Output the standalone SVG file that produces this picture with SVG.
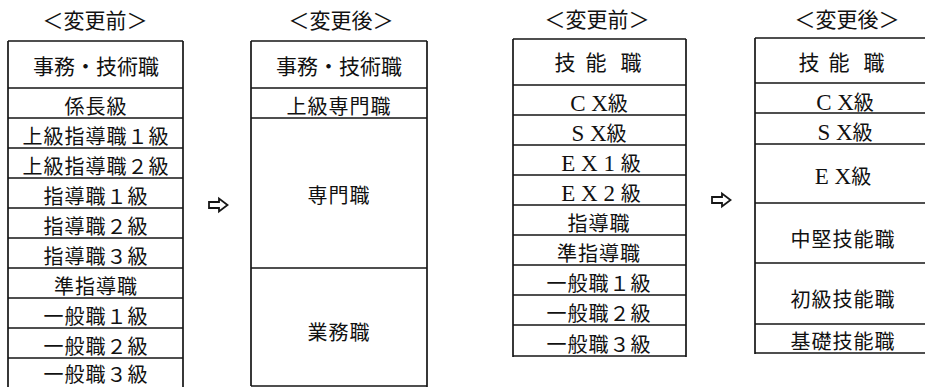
<svg xmlns="http://www.w3.org/2000/svg" width="925" height="387" viewBox="0 0 925 387">
<style>
.ln{stroke:#161616;stroke-width:1.7;fill:none}
.t{font-family:"Noto Sans CJK JP","Noto Sans CJK SC",sans-serif;font-size:20px;fill:#111;text-anchor:middle;letter-spacing:1px}
.h{font-family:"Noto Sans CJK JP","Noto Sans CJK SC",sans-serif;font-size:21px;fill:#111;text-anchor:middle}
.s{font-family:"Noto Sans CJK JP","Noto Sans CJK SC",sans-serif;font-size:20px;fill:#111;text-anchor:middle}
.lat{font-family:"Liberation Serif",serif;font-size:23px}
.ar{stroke:#161616;stroke-width:1.8;fill:#fff;stroke-linejoin:miter}
</style>
<rect width="925" height="387" fill="#fff"/>

<g id="col1">
  <text class="h" x="95" y="28">＜変更前＞</text>
  <path class="ln" d="M8 41V387M183 41V387M8 41H183M8 88H183M8 118H183M8 148H183M8 178H183M8 208H183M8 238H183M8 268H183M8 298H183M8 328H183M8 358H183"/>
  <g id="c1-header"><text class="h" x="96" y="74">事務・技術職</text></g>
  <g id="c1-r1"><text class="t" x="96" y="114">係長級</text></g>
  <g id="c1-r2"><text class="t" x="96" y="144">上級指導職１級</text></g>
  <g id="c1-r3"><text class="t" x="96" y="174">上級指導職２級</text></g>
  <g id="c1-r4"><text class="t" x="96" y="204">指導職１級</text></g>
  <g id="c1-r5"><text class="t" x="96" y="234">指導職２級</text></g>
  <g id="c1-r6"><text class="t" x="96" y="264">指導職３級</text></g>
  <g id="c1-r7"><text class="t" x="96" y="294">準指導職</text></g>
  <g id="c1-r8"><text class="t" x="96" y="324">一般職１級</text></g>
  <g id="c1-r9"><text class="t" x="96" y="354">一般職２級</text></g>
  <g id="c1-r10"><text class="t" x="96" y="382">一般職３級</text></g>
</g>

<g id="col2">
  <text class="h" x="341" y="28">＜変更後＞</text>
  <path class="ln" d="M251 41V386M427 41V387M251 41H427M251 88H427M251 118H427M251 268H427M251 386H427"/>
  <g id="c2-header"><text class="h" x="339" y="74">事務・技術職</text></g>
  <g id="c2-r1"><text class="t" x="339" y="114">上級専門職</text></g>
  <g id="c2-r2"><text class="t" x="339" y="203">専門職</text></g>
  <g id="c2-r3"><text class="t" x="339" y="340">業務職</text></g>
</g>

<g id="col3">
  <text class="h" x="597" y="27">＜変更前＞</text>
  <path class="ln" d="M513 39V357M686 39V357M513 39H686M513 85H686M513 115H686M513 145H686M513 175H686M513 205H686M513 235H686M513 265H686M513 295H686M513 325H686M513 356H686"/>
  <g id="c3-header"><text class="h" x="565 596 631" y="70">技能職</text></g>
  <g id="c3-r1"><text class="s" x="599" y="111"><tspan class="lat">C X</tspan>級</text></g>
  <g id="c3-r2"><text class="s" x="599" y="141"><tspan class="lat">S X</tspan>級</text></g>
  <g id="c3-r3"><text class="s" x="601" y="171"><tspan class="lat">E X 1 </tspan>級</text></g>
  <g id="c3-r4"><text class="s" x="601" y="201"><tspan class="lat">E X 2 </tspan>級</text></g>
  <g id="c3-r5"><text class="t" x="599" y="231">指導職</text></g>
  <g id="c3-r6"><text class="t" x="599" y="261">準指導職</text></g>
  <g id="c3-r7"><text class="t" x="599" y="291">一般職１級</text></g>
  <g id="c3-r8"><text class="t" x="599" y="321">一般職２級</text></g>
  <g id="c3-r9"><text class="t" x="599" y="352">一般職３級</text></g>
</g>

<g id="col4">
  <text class="h" x="847" y="27">＜変更後＞</text>
  <path class="ln" d="M755 38V354M929 38V354M755 38H929M755 83H929M755 113H929M755 144H929M755 203H929M755 263H929M755 324H929M755 353H929"/>
  <g id="c4-header"><text class="h" x="809 839 874" y="70">技能職</text></g>
  <g id="c4-r1"><text class="s" x="845" y="110"><tspan class="lat">C X</tspan>級</text></g>
  <g id="c4-r2"><text class="s" x="845" y="140"><tspan class="lat">S X</tspan>級</text></g>
  <g id="c4-r3"><text class="s" x="843" y="184"><tspan class="lat">E X</tspan>級</text></g>
  <g id="c4-r4"><text class="t" x="843" y="247">中堅技能職</text></g>
  <g id="c4-r5"><text class="t" x="843" y="307">初級技能職</text></g>
  <g id="c4-r6"><text class="t" x="843" y="349">基礎技能職</text></g>
</g>

<g id="connectors">
  <polygon class="ar" points="209,202 219,202 219,198.5 227.5,205 219,211.5 219,208 209,208"/>
  <polygon class="ar" points="712,197 722,197 722,193.5 730.5,200 722,206.5 722,203 712,203"/>
</g>
</svg>
